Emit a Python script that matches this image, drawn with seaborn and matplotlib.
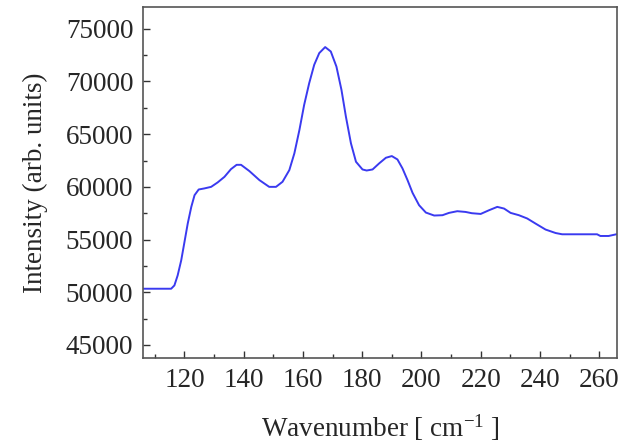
import numpy as np
import pandas as pd
import matplotlib
matplotlib.use("Agg")
import matplotlib.pyplot as plt
from matplotlib.ticker import MultipleLocator
import seaborn as sns

# spectrum
wavenumber = [106.0, 115.5, 116.6, 117.7, 118.9, 120.0, 121.1, 122.3, 123.4, 124.8,
              126.7, 129.0, 131.2, 133.5, 135.7, 137.6, 139.1, 141.9, 145.3, 148.6,
              150.9, 153.1, 155.4, 157.1, 158.8, 160.4, 162.1, 163.8, 165.5, 167.5,
              169.4, 171.3, 173.0, 174.5, 176.2, 177.9, 180.1, 181.5, 183.5, 185.7,
              188.0, 190.0, 191.9, 193.6, 195.3, 197.0, 199.2, 201.5, 204.3, 207.1,
              209.3, 212.1, 214.9, 217.0, 220.0, 222.8, 225.6, 227.9, 230.1, 232.9,
              235.7, 238.5, 241.9, 245.3, 247.5, 253.1, 259.3, 260.4, 263.2, 265.8]
intensity = [50335, 50335, 50650, 51600, 53030, 54770, 56520, 58100, 59210, 59750,
             59850, 60000, 60420, 60950, 61680, 62090, 62090, 61500, 60640, 60000,
             60000, 60480, 61590, 63180, 65390, 67770, 69830, 71580, 72690, 73260,
             72840, 71410, 69200, 66660, 64130, 62380, 61650, 61550, 61650, 62220,
             62760, 62920, 62600, 61750, 60640, 59430, 58260, 57560, 57280, 57310,
             57530, 57690, 57620, 57500, 57430, 57780, 58100, 57940, 57530, 57310,
             57000, 56520, 55950, 55620, 55500, 55500, 55500, 55340, 55340, 55500]

df = pd.DataFrame({"wavenumber": wavenumber, "intensity": intensity})

sns.set_style("ticks")
plt.rcParams["font.family"] = ["Liberation Serif", "DejaVu Serif"]
plt.rcParams["mathtext.default"] = "regular"

fig = plt.figure(figsize=(6.37, 4.46), dpi=100)
ax = fig.add_axes([0.2245, 0.197, 0.744, 0.787])
sns.lineplot(data=df, x="wavenumber", y="intensity", ax=ax, color="#3a3af0", linewidth=1.4)

ax.set_xlim(106, 266)
ax.set_ylim(43750, 77050)
ax.xaxis.set_major_locator(MultipleLocator(20))
ax.xaxis.set_minor_locator(MultipleLocator(10))
ax.yaxis.set_major_locator(MultipleLocator(5000))
ax.yaxis.set_minor_locator(MultipleLocator(2500))
ax.tick_params(which="both", direction="in", labelsize=19.5, color="#333333", width=1, pad=7)
ax.tick_params(which="major", length=5)
ax.tick_params(which="minor", length=3)
for s in ax.spines.values():
    s.set_color("#555555")
    s.set_linewidth(1.2)

ax.set_xlabel("Wavenumber [ cm$^{-1}$ ]", fontsize=19.5, labelpad=14)
ax.set_ylabel("Intensity (arb. units)", fontsize=19.5, labelpad=13)

fig.savefig("out.png", dpi=100)
